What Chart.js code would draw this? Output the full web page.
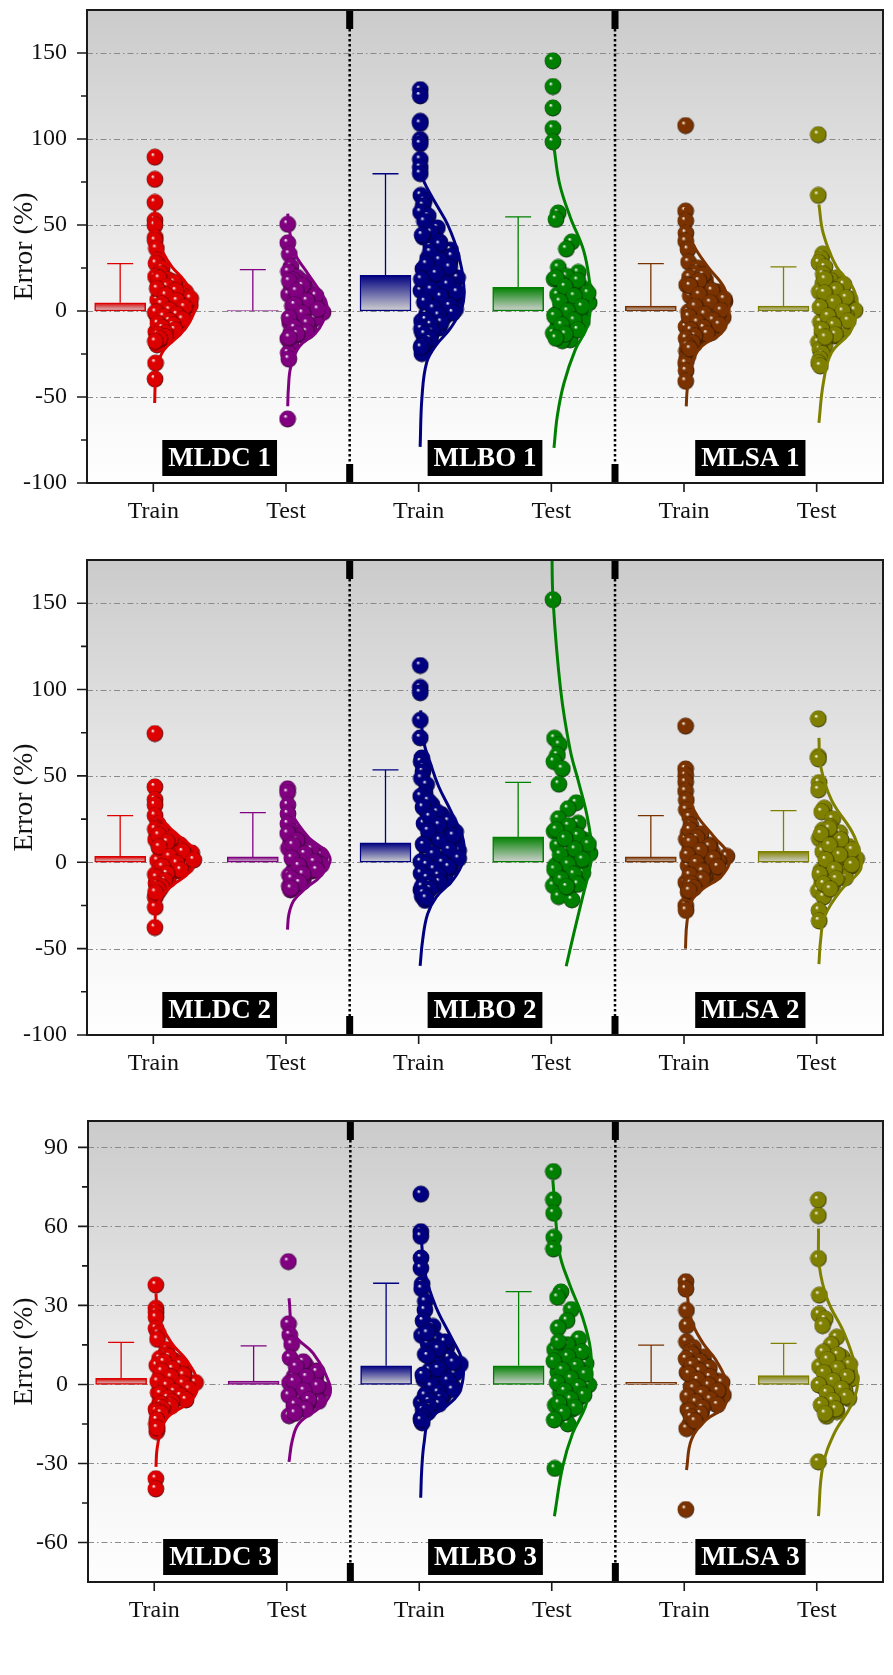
<!DOCTYPE html>
<html>
<head>
<meta charset="utf-8">
<script src="https://cdn.jsdelivr.net/npm/chart.js@4.4.1/dist/chart.umd.min.js"></script>
<style>
  body { margin: 0; background: #fff; }
  #wrap { position: relative; width: 893px; height: 1675px; }
  .panel { position: absolute; left: 0; }
</style>
</head>
<body>
<div id="wrap">
  <div class="panel" style="top:0;width:893px;height:548px"><canvas id="c1"></canvas></div>
  <div class="panel" style="top:548px;width:893px;height:545px"><canvas id="c2"></canvas></div>
  <div class="panel" style="top:1093px;width:893px;height:582px"><canvas id="c3"></canvas></div>
</div>
<script>
// categories along x and the group colours
const categories = ["Train", "Test", "Train", "Test", "Train", "Test"];
const groupColors = ["#dd0000", "#800080", "#000080", "#008000", "#7a3300", "#808000"];

// y tick labels
const yTicksA = [-100, -50, 0, 50, 100, 150];
const yMinorA = [-75, -25, 25, 75, 125];
const yTicksB = [-60, -30, 0, 30, 60, 90];
const yMinorB = [-45, -15, 15, 45, 75];

// labels shown in the boxes
const models1 = ["MLDC 1", "MLBO 1", "MLSA 1"];
const models2 = ["MLDC 2", "MLBO 2", "MLSA 2"];
const models3 = ["MLDC 3", "MLBO 3", "MLSA 3"];

// bar heights (mean) and error bar (SD)
const means1 = [4.8, 0.2, 20.7, 13.7, 2.9, 2.9];
const sds1 = [22.8, 23.9, 59.1, 41.0, 24.7, 22.8];
const means2 = [3.5, 3.1, 11.2, 14.7, 3.1, 6.4];
const sds2 = [23.5, 25.7, 42.3, 31.6, 23.9, 23.5];
const means3 = [2.3, 1.3, 7.1, 7.1, 0.8, 3.4];
const sds3 = [13.7, 13.3, 31.3, 28.1, 14.1, 12.2];

// individual errors (%)
const mldc1Train = [89.4, 76.5, 63.1, 52.7, 49.8, 42.7, 40.9, 36.3, 29.4, 27.6, 24.7, 21.8, 19.9, 18.2, 17.6, 16.1, 15.3, 14.8, 13.2, 12.6, 11.1, 10.4, 9.7, 8.2, 7.9, 6.5, 5.1, 4.6, 3.3, 2.7, 1.4, 0.9, -0.3, -1.2, -1.9, -2.8, -3.6, -4.4, -5.3, -6.1, -6.9, -7.7, -8.8, -9.5, -10.3, -11.6, -12.2, -13.4, -14.1, -14.9, -15.7, -16.8, -17.5, -19.7, -30.3, -39.6,
  18.9, 16.6, 14.2, 12.9, 11.7, 9.1, 7.2, 5.8, 4.0, 2.2, 0.4, -0.8, -2.2, -3.3, -4.9, -5.8, -7.4, -8.2, -9.9, -11.0, -12.7, -13.8, -15.2, -16.3, -17.8];
const mldc1Test = [50.4, 39.6, 33.0, 25.7, 22.8, 19.5, 18.1, 16.7, 15.4, 13.9, 12.2, 10.8, 9.6, 8.3, 6.9, 5.2, 4.1, 2.8, 1.6, 0.4, -0.8, -1.9, -3.2, -4.5, -5.6, -6.8, -8.1, -9.3, -10.6, -11.4, -12.7, -13.9, -14.8, -16.2, -19.7, -24.5, -28.0, -62.8,
  17.3, 14.6, 11.5, 8.9, 5.9, 3.5, 0.9, -1.4, -4.0, -7.2, -9.8, -12.1, -13.4, -15.5];
const mlbo1Train = [128.7, 125.0, 110.3, 109.0, 99.7, 97.2, 88.1, 83.4, 79.8, 67.2, 64.1, 61.3, 57.4, 55.2, 52.1, 48.3, 45.6, 42.9, 40.1, 37.2, 35.4, 33.0, 30.6, 28.3, 26.1, 24.4, 22.8, 20.7, 19.3, 17.6, 16.2, 14.5, 13.1, 11.8, 10.2, 9.1, 7.5, 6.3, 4.8, 3.6, 2.1, 0.9, -0.4, -1.8, -3.1, -4.6, -5.9, -7.2, -8.6, -9.9, -11.3, -12.8, -14.1, -15.6, -17.0, -18.4, -20.1, -22.3, -24.8,
  44.1, 38.6, 34.2, 31.8, 29.5, 27.2, 25.3, 21.6, 18.4, 15.3, 12.4, 10.9, 8.3, 5.4, 2.9, 1.5, -1.1, -2.6, -5.2, -6.6, -8.0, -10.5, -12.0, -13.5, -16.3, -19.0, -21.2];
const mlbo1Test = [145.4, 130.5, 118.0, 106.1, 98.3, 57.0, 53.2, 40.1, 36.0, 25.3, 22.4, 20.1, 18.5, 16.9, 15.2, 12.6, 11.0, 9.4, 7.8, 6.1, 4.7, 3.2, 1.8, 0.5, -0.9, -2.3, -3.6, -4.8, -6.2, -7.5, -8.9, -10.1, -11.6, -12.9, -14.2, -15.4, -16.8, -17.3,
  19.2, 17.7, 14.0, 10.3, 8.6, 5.4, 2.5, -0.2, -3.0, -5.5, -8.2, -11.0, -13.6, -15.9];
const mlsa1Train = [107.8, 58.1, 52.3, 45.2, 40.5, 35.7, 28.4, 24.9, 22.0, 19.6, 18.0, 16.8, 15.1, 13.9, 12.4, 11.2, 10.0, 8.7, 7.6, 6.4, 5.5, 4.1, 3.2, 2.0, 0.8, -0.5, -1.4, -2.7, -3.8, -4.9, -6.1, -7.3, -8.5, -9.2, -10.6, -11.8, -12.7, -14.0, -15.3, -16.5, -17.9, -19.2, -21.0, -23.4, -25.6, -28.1, -30.4, -34.8, -40.9,
  20.8, 17.4, 14.6, 11.8, 9.4, 6.9, 4.8, 2.6, 0.2, -2.0, -3.3, -5.5, -6.7, -8.0, -9.9, -11.2, -13.4, -14.7, -16.0, -18.6, -20.1, -22.2];
const mlsa1Test = [102.5, 67.2, 33.1, 30.4, 28.0, 25.5, 21.3, 19.2, 17.6, 16.0, 14.5, 12.9, 11.3, 9.8, 8.4, 7.0, 5.7, 4.2, 2.9, 1.5, 0.3, -1.0, -2.3, -3.7, -5.0, -6.4, -7.6, -8.9, -10.3, -11.7, -13.0, -14.6, -16.2, -18.1, -20.4, -22.6, -25.0, -27.8, -30.2, -32.0,
  18.4, 15.3, 12.1, 10.5, 7.7, 4.9, 2.2, -0.3, -3.0, -5.7, -8.3, -10.9, -13.8, -15.4];

const mldc2Train = [74.5, 43.6, 36.2, 33.1, 27.0, 22.3, 19.8, 18.4, 17.1, 16.0, 15.2, 14.3, 13.1, 12.0, 11.2, 10.1, 9.3, 8.4, 7.2, 6.5, 5.4, 4.7, 3.6, 2.8, 1.7, 0.9, -0.2, -1.1, -2.0, -3.2, -4.1, -5.0, -6.2, -7.1, -8.3, -9.4, -10.2, -11.5, -12.3, -13.6, -14.8, -16.4, -18.7, -20.3, -26.1, -37.8,
  19.1, 17.7, 15.6, 13.7, 11.6, 8.8, 6.0, 3.2, 1.3, -0.7, -2.6, -4.6, -6.7, -8.8, -10.7, -12.9, -14.2, -15.6, -17.5];
const mldc2Test = [42.5, 40.3, 33.1, 28.0, 22.2, 17.4, 15.9, 14.6, 13.2, 11.8, 10.5, 9.3, 8.1, 6.7, 5.4, 4.2, 3.0, 1.9, 0.7, -0.5, -1.6, -2.8, -3.9, -5.1, -6.4, -7.5, -8.8, -10.1, -11.3, -12.6, -13.9, -14.5, -16.0,
  16.6, 12.5, 9.9, 7.4, 4.8, 2.4, 0.1, -2.2, -4.5, -7.0, -9.5, -12.0, -15.2];
const mlbo2Train = [113.9, 101.2, 98.1, 82.2, 72.0, 60.4, 58.1, 55.0, 52.3, 48.6, 44.9, 40.1, 38.2, 33.4, 30.2, 27.5, 25.1, 22.4, 20.6, 19.0, 17.5, 16.1, 14.7, 13.2, 11.9, 10.5, 9.2, 7.8, 6.6, 5.3, 4.0, 2.7, 1.5, 0.3, -0.9, -2.2, -3.4, -4.7, -5.9, -7.1, -8.4, -9.6, -10.9, -12.1, -13.4, -14.8, -16.1, -17.3, -19.8, -22.1,
  35.6, 31.8, 28.9, 26.3, 23.7, 21.5, 18.2, 15.4, 12.5, 10.0, 7.2, 4.6, 2.1, -0.3, -1.5, -2.8, -4.1, -6.5, -7.7, -9.0, -11.5, -12.7, -14.1, -15.5, -18.0, -20.9];
const mlbo2Test = [152.0, 71.8, 68.1, 62.0, 58.3, 54.1, 45.2, 34.4, 31.0, 25.2, 22.6, 19.8, 17.9, 16.2, 14.5, 12.8, 11.1, 9.7, 8.2, 6.6, 5.1, 3.7, 2.2, 0.9, -0.6, -2.0, -3.5, -4.9, -6.3, -7.8, -9.2, -10.7, -12.1, -13.5, -15.0, -19.9, -21.8,
  21.1, 18.8, 15.3, 13.6, 10.4, 7.4, 4.4, 1.5, -1.3, -4.2, -7.0, -9.9, -12.8, -14.3];
const mlsa2Train = [78.8, 54.0, 50.2, 46.3, 41.1, 35.9, 30.4, 26.2, 21.3, 17.2, 15.8, 14.9, 13.3, 12.4, 10.8, 9.9, 8.3, 7.6, 5.9, 5.1, 3.4, 2.8, 1.1, 0.3, -1.4, -2.0, -3.8, -4.5, -6.1, -6.8, -8.6, -9.3, -10.9, -11.7, -13.2, -14.0, -15.6, -17.4, -25.1, -27.9,
  18.7, 16.4, 14.1, 11.6, 9.1, 6.6, 4.2, 2.0, -0.4, -2.7, -5.3, -7.5, -9.9, -12.4, -14.8, -16.5];
const mlsa2Test = [83.0, 61.2, 59.8, 46.1, 41.9, 31.3, 29.2, 25.0, 20.4, 18.6, 17.1, 15.4, 13.7, 12.3, 10.6, 9.1, 7.8, 6.2, 4.9, 3.4, 2.0, 0.6, -0.8, -2.1, -3.6, -4.9, -6.3, -7.7, -9.0, -10.4, -11.9, -13.2, -14.8, -16.5, -20.1, -27.9, -34.0,
  19.5, 16.3, 13.0, 9.8, 7.0, 4.1, 1.3, -1.5, -4.2, -7.0, -9.7, -12.6, -15.6];

const mldc3Train = [37.7, 28.9, 27.3, 25.4, 21.2, 19.3, 17.1, 13.2, 11.3, 9.8, 8.9, 8.0, 7.2, 6.3, 5.5, 4.6, 3.9, 3.1, 2.2, 1.5, 0.7, -0.1, -0.9, -1.6, -2.4, -3.2, -4.0, -4.7, -5.5, -6.2, -7.0, -7.9, -8.6, -9.4, -12.3, -15.1, -17.9, -35.8, -39.7,
  10.5, 8.5, 7.6, 5.9, 5.0, 3.5, 2.7, 1.1, 0.3, -0.5, -1.9, -2.8, -3.6, -4.4, -5.1, -5.9, -6.6, -7.4, -8.3, -9.1, -10.2, -11.0, -13.5, -16.6];
const mldc3Test = [46.6, 23.0, 18.8, 15.2, 10.1, 7.3, 6.2, 5.1, 4.3, 3.2, 2.4, 1.5, 0.6, -0.3, -1.2, -2.0, -2.9, -3.8, -4.6, -5.5, -6.4, -7.3, -8.2, -9.1, -10.0, -11.9,
  8.6, 6.7, 4.7, 2.8, 1.0, -0.7, -2.4, -4.2, -5.9, -7.7, -9.5, -11.0];
const mlbo3Train = [72.2, 58.0, 56.2, 48.0, 44.1, 38.1, 36.3, 31.5, 28.2, 24.1, 22.0, 20.3, 18.6, 17.0, 15.5, 14.1, 12.7, 11.4, 10.1, 8.9, 7.6, 6.4, 5.3, 4.1, 3.0, 1.9, 0.8, -0.3, -1.4, -2.5, -3.6, -4.7, -5.8, -6.9, -8.0, -9.2, -10.3, -11.5, -12.8, -14.6,
  19.4, 16.2, 13.4, 10.8, 8.3, 5.9, 3.6, 1.4, -0.8, -2.0, -3.1, -4.2, -5.3, -6.4, -7.5, -8.6, -9.8, -10.9, -12.2, -13.6];
const mlbo3Test = [80.8, 70.1, 65.0, 55.8, 51.4, 35.1, 33.0, 28.4, 24.2, 21.5, 17.3, 15.1, 13.2, 11.4, 9.6, 7.9, 6.2, 4.6, 3.0, 1.4, -0.2, -1.7, -3.3, -4.9, -6.4, -7.9, -9.6, -12.1, -15.0, -31.9,
  16.2, 12.3, 10.5, 8.8, 7.0, 5.4, 3.8, 2.2, 0.6, -1.0, -2.5, -4.1, -5.7, -7.2, -8.8, -10.8, -13.5];
const mlsa3Train = [39.0, 36.2, 28.1, 22.3, 16.2, 14.0, 12.3, 10.4, 9.1, 7.9, 6.8, 5.6, 4.5, 3.4, 2.3, 1.2, 0.2, -0.9, -2.0, -3.1, -4.1, -5.2, -6.2, -7.3, -8.4, -9.5, -10.6, -11.8, -13.0, -14.9, -16.8, -47.5,
  11.3, 9.7, 8.5, 7.3, 6.2, 5.0, 3.9, 2.8, 1.7, 0.7, -0.4, -1.5, -2.5, -3.6, -4.6, -5.7, -6.8, -7.8, -8.9, -10.0, -11.2, -12.4, -14.0];
const mlsa3Test = [70.0, 64.1, 47.8, 33.9, 26.6, 24.8, 22.3, 17.9, 15.1, 12.2, 10.3, 8.5, 6.8, 5.2, 3.6, 2.1, 0.6, -0.9, -2.4, -3.9, -5.4, -7.0, -8.6, -10.3, -12.1, -29.4,
  11.2, 9.4, 7.6, 6.0, 4.4, 2.9, 1.3, -0.2, -1.7, -3.2, -4.7, -6.2, -7.8, -9.4, -11.1];

// distribution curves: [error value, curve width in category units]
const curve1 = [
  [[59.5,0.01],[45,0.02],[33,0.08],[25.7,0.14],[18,0.23],[6,0.32],[-4,0.29],[-13,0.21],[-22.6,0.08],[-32,0.03],[-42,0.015],[-53.5,0.01]],
  [[56.6,0.013],[45,0.03],[33.4,0.067],[21.8,0.164],[12,0.25],[2.5,0.31],[-6,0.28],[-13,0.22],[-20.7,0.1],[-32,0.037],[-45,0.018],[-55.4,0.013]],
  [[80,0.011],[72,0.06],[61,0.14],[50,0.22],[33,0.3],[15,0.34],[3,0.33],[-10,0.24],[-20,0.13],[-30,0.06],[-50,0.025],[-79,0.011]],
  [[95,0.02],[74,0.062],[54.7,0.142],[35,0.244],[16,0.29],[6.4,0.3],[-9,0.27],[-22.6,0.18],[-42,0.095],[-61,0.045],[-79.6,0.02]],
  [[60,0.011],[50,0.025],[39,0.067],[25.7,0.18],[14,0.3],[2.5,0.34],[-5,0.33],[-13,0.28],[-20.7,0.13],[-32,0.052],[-45,0.025],[-55.4,0.017]],
  [[62,0.017],[45,0.05],[25.7,0.15],[14,0.27],[2.5,0.31],[-5,0.29],[-13,0.246],[-24.5,0.11],[-42,0.05],[-65,0.017]]
];
const curve2 = [
  [[38,0.011],[28,0.04],[18,0.15],[8,0.3],[2,0.32],[-6,0.27],[-13,0.15],[-20,0.06],[-28,0.02],[-36,0.011]],
  [[38,0.011],[28,0.045],[15,0.164],[3,0.33],[-8,0.26],[-15,0.15],[-22,0.06],[-30,0.022],[-39,0.011]],
  [[88,0.015],[70,0.037],[57,0.09],[44,0.15],[30,0.24],[13,0.336],[0,0.33],[-10,0.26],[-20,0.134],[-30,0.067],[-45,0.03],[-60,0.011]],
  [[185,0.004],[152,0.013],[100,0.07],[65,0.142],[46,0.207],[26.6,0.27],[7.3,0.306],[-2.3,0.293],[-21.6,0.231],[-41,0.17],[-60.2,0.112]],
  [[56,0.011],[40,0.03],[28,0.09],[15,0.224],[3,0.343],[-8,0.284],[-15,0.15],[-22,0.06],[-35,0.022],[-50,0.011]],
  [[72,0.017],[55.6,0.03],[36,0.112],[15,0.284],[-2.3,0.336],[-9,0.28],[-15.8,0.187],[-31,0.062],[-45,0.03],[-59,0.017]]
];
const curve3 = [
  [[34.6,0.013],[25.7,0.03],[15.6,0.132],[9.2,0.244],[0.4,0.328],[-6,0.281],[-12.3,0.104],[-18.6,0.045],[-25,0.02],[-31.3,0.013]],
  [[32.7,0.017],[19.4,0.054],[11.8,0.2],[4.2,0.29],[-3.4,0.328],[-8.5,0.254],[-14.8,0.092],[-21,0.043],[-29.4,0.017]],
  [[55,0.015],[42,0.045],[29.5,0.125],[18,0.24],[9.2,0.324],[2,0.33],[-4,0.29],[-8,0.21],[-13.5,0.075],[-22,0.037],[-32,0.019],[-43,0.011]],
  [[77.6,0.008],[50.4,0.057],[38.4,0.132],[25.7,0.231],[13,0.293],[0.4,0.293],[-8.5,0.254],[-18.6,0.157],[-31.3,0.082],[-50,0.02]],
  [[39,0.013],[24.4,0.054],[15.6,0.142],[9.2,0.24],[-0.9,0.328],[-8.5,0.3],[-13.5,0.164],[-21,0.054],[-32.5,0.017]],
  [[59.2,0.013],[44.7,0.02],[32,0.082],[19.4,0.207],[6.7,0.293],[-0.9,0.306],[-8.5,0.254],[-18.6,0.132],[-31.3,0.045],[-50,0.013]]
];

const FONT = "'Liberation Serif', 'Times New Roman', serif";

// shaded ball used as point marker
function makeBall(color) {
  const c = document.createElement("canvas");
  c.width = 18; c.height = 18;
  const g = c.getContext("2d");
  const grad = g.createRadialGradient(6.6, 6, 0.3, 9, 9, 9);
  grad.addColorStop(0, "#ffffff");
  grad.addColorStop(0.2, color);
  grad.addColorStop(0.8, color);
  grad.addColorStop(1, "rgba(0,0,0,0.9)");
  g.fillStyle = grad;
  g.beginPath();
  g.arc(9, 9, 8.4, 0, Math.PI * 2);
  g.fill();
  return c;
}
const balls = groupColors.map(makeBall);

// width of the curve at a given value (used to spread the dots)
function curveWidth(curve, v) {
  for (let k = 0; k < curve.length - 1; k++) {
    const a = curve[k], b = curve[k + 1];
    if (v <= a[0] && v >= b[0]) {
      const t = (a[0] - v) / (a[0] - b[0]);
      return a[1] + (b[1] - a[1]) * t;
    }
  }
  return 0;
}

const bgPlugin = {
  id: "panelDeco",
  beforeDraw(chart) {
    const { ctx, chartArea: a } = chart;
    const g = ctx.createLinearGradient(0, a.top, 0, a.bottom);
    g.addColorStop(0, "#cbcbcb");
    g.addColorStop(0.55, "#eeeeee");
    g.addColorStop(1, "#fefefe");
    ctx.save();
    ctx.fillStyle = g;
    ctx.fillRect(a.left, a.top, a.right - a.left, a.bottom - a.top);
    ctx.restore();
  },
  beforeDatasetsDraw(chart) {
    const { ctx, chartArea: a, scales } = chart;
    const o = chart.options.plugins.panelDeco;
    ctx.save();
    // grid lines
    ctx.strokeStyle = "#8a8a8a";
    ctx.lineWidth = 1;
    ctx.setLineDash([6, 3, 1.5, 3]);
    o.yTicks.forEach(v => {
      const y = Math.round(scales.y.getPixelForValue(v)) + 0.5;
      if (y <= a.top + 1 || y >= a.bottom - 1) return;
      ctx.beginPath(); ctx.moveTo(a.left, y); ctx.lineTo(a.right, y); ctx.stroke();
    });
    // separators
    ctx.setLineDash([2.5, 2.5]);
    ctx.strokeStyle = "#000";
    ctx.lineWidth = 2.5;
    [1.48, 3.48].forEach(xv => {
      const x = scales.x.getPixelForValue(xv);
      ctx.beginPath(); ctx.moveTo(x, a.top + 19); ctx.lineTo(x, a.bottom - 19); ctx.stroke();
      ctx.fillStyle = "#000";
      ctx.fillRect(x - 3.5, a.top, 7, 19);
      ctx.fillRect(x - 3.5, a.bottom - 19, 7, 19);
    });
    ctx.setLineDash([]);
    // error bars
    o.means.forEach((m, i) => {
      const x = scales.x.getPixelForValue(i - 0.25);
      const y0 = scales.y.getPixelForValue(m);
      const y1 = scales.y.getPixelForValue(m + o.sds[i]);
      ctx.strokeStyle = groupColors[i];
      ctx.lineWidth = 1.3;
      ctx.beginPath();
      ctx.moveTo(x, y0); ctx.lineTo(x, y1);
      ctx.moveTo(x - 13, y1); ctx.lineTo(x + 13, y1);
      ctx.stroke();
    });
    ctx.restore();
  },
  afterDatasetsDraw(chart) {
    const { ctx, chartArea: a, scales } = chart;
    const o = chart.options.plugins.panelDeco;
    ctx.save();
    ctx.font = "bold 27px " + FONT;
    ctx.textAlign = "center";
    ctx.textBaseline = "middle";
    o.models.forEach((name, k) => {
      const cx = scales.x.getPixelForValue(2 * k + 0.5);
      const w = ctx.measureText(name).width + 12;
      const h = 36;
      const top = a.bottom - 7 - h;
      ctx.fillStyle = "#000";
      ctx.fillRect(cx - w / 2, top, w, h);
      ctx.fillStyle = "#fff";
      ctx.fillText(name, cx, top + h / 2 + 1);
    });
    ctx.restore();
  },
  afterDraw(chart) {
    const { ctx, chartArea: a, scales } = chart;
    const o = chart.options.plugins.panelDeco;
    ctx.save();
    ctx.strokeStyle = "#1a1a1a";
    ctx.lineWidth = 2;
    ctx.strokeRect(a.left, a.top, a.right - a.left, a.bottom - a.top);
    ctx.lineWidth = 1.6;
    ctx.beginPath();
    o.yTicks.forEach(v => {
      const y = scales.y.getPixelForValue(v);
      ctx.moveTo(a.left - 10, y); ctx.lineTo(a.left, y);
    });
    o.yMinor.forEach(v => {
      const y = scales.y.getPixelForValue(v);
      ctx.moveTo(a.left - 6, y); ctx.lineTo(a.left, y);
    });
    categories.forEach((c, i) => {
      const x = scales.x.getPixelForValue(i);
      ctx.moveTo(x, a.bottom); ctx.lineTo(x, a.bottom + 9);
    });
    ctx.stroke();
    ctx.restore();
  }
};

function makePanel(id, opts) {
  const datasets = [];
  // bars (mean)
  datasets.push({
    type: "bar",
    order: 3,
    data: opts.means.map((m, i) => ({ x: i - 0.25, y: m })),
    barThickness: 51,
    borderWidth: 1.5,
    borderSkipped: false,
    borderColor: groupColors,
    backgroundColor: (ctx) => {
      const col = groupColors[ctx.dataIndex % groupColors.length];
      const ys = ctx.chart.scales.y;
      if (!ys || ctx.raw == null) return col;
      const top = ys.getPixelForValue(ctx.raw.y);
      const bot = ys.getPixelForValue(0);
      if (!isFinite(top) || Math.abs(bot - top) < 0.5) return col;
      const g = ctx.chart.ctx.createLinearGradient(0, top, 0, bot);
      g.addColorStop(0, col);
      g.addColorStop(1, "#d2d2d2");
      return g;
    }
  });
  // dots, spread sideways inside the curve (narrower in the tails)
  opts.points.forEach((vals, i) => {
    const wMax = Math.max(...opts.curves[i].map(p => p[1]));
    datasets.push({
      type: "scatter",
      order: 2,
      data: vals.map((v, k) => {
        const w = curveWidth(opts.curves[i], v);
        const spread = w * Math.min(1, w / wMax) * 0.95;
        const f = ((k + 1) * 0.6180339) % 1;
        return { x: i + 0.012 + spread * f, y: v };
      }),
      pointStyle: balls[i],
      pointRadius: 9,
      pointHoverRadius: 9
    });
  });
  // distribution curves
  opts.curves.forEach((cv, i) => {
    datasets.push({
      type: "line",
      order: 1,
      data: cv.map(p => ({ x: i + p[1], y: p[0] })),
      borderColor: groupColors[i],
      borderWidth: 3,
      pointRadius: 0,
      tension: 0.4,
      fill: false
    });
  });

  new Chart(document.getElementById(id), {
    type: "scatter",
    data: { datasets },
    plugins: [bgPlugin],
    options: {
      responsive: true,
      maintainAspectRatio: false,
      animation: false,
      events: [],
      layout: { padding: opts.padding },
      plugins: {
        legend: { display: false },
        tooltip: { enabled: false },
        panelDeco: { yTicks: opts.yTicks, yMinor: opts.yMinor, means: opts.means, sds: opts.sds, models: opts.models }
      },
      scales: {
        x: {
          type: "linear",
          min: -0.5,
          max: 5.5,
          offset: false,
          grid: { display: false, drawTicks: false },
          border: { display: false },
          afterBuildTicks: (s) => { s.ticks = categories.map((c, i) => ({ value: i })); },
          afterFit: (s) => { s.height = opts.xHeight; s.paddingLeft = 0; s.paddingRight = 0; },
          ticks: {
            autoSkip: false,
            maxRotation: 0,
            padding: 14,
            color: "#111",
            font: { family: FONT, size: 24 },
            callback: (v, idx) => categories[idx]
          }
        },
        y: {
          min: opts.yMin,
          max: opts.yMax,
          grid: { display: false, drawTicks: false },
          border: { display: false },
          afterBuildTicks: (s) => { s.ticks = opts.yTicks.map(v => ({ value: v })); },
          afterFit: (s) => { s.width = opts.yWidth; s.paddingTop = 0; s.paddingBottom = 0; },
          ticks: {
            padding: 20,
            color: "#111",
            font: { family: FONT, size: 24 },
            callback: (v) => String(v)
          },
          title: {
            display: true,
            text: "Error (%)",
            color: "#111",
            font: { family: FONT, size: 28 },
            padding: { top: 8, bottom: 0 }
          }
        }
      }
    }
  });
}

makePanel("c1", {
  means: means1, sds: sds1, models: models1, curves: curve1,
  points: [mldc1Train, mldc1Test, mlbo1Train, mlbo1Test, mlsa1Train, mlsa1Test],
  yMin: -100, yMax: 175, yTicks: yTicksA, yMinor: yMinorA,
  padding: { top: 10, right: 3, left: 0, bottom: 0 }, yWidth: 87, xHeight: 65
});
makePanel("c2", {
  means: means2, sds: sds2, models: models2, curves: curve2,
  points: [mldc2Train, mldc2Test, mlbo2Train, mlbo2Test, mlsa2Train, mlsa2Test],
  yMin: -100, yMax: 175, yTicks: yTicksA, yMinor: yMinorA,
  padding: { top: 12, right: 3, left: 0, bottom: 0 }, yWidth: 87, xHeight: 58
});
makePanel("c3", {
  means: means3, sds: sds3, models: models3, curves: curve3,
  points: [mldc3Train, mldc3Test, mlbo3Train, mlbo3Test, mlsa3Train, mlsa3Test],
  yMin: -75, yMax: 100, yTicks: yTicksB, yMinor: yMinorB,
  padding: { top: 28, right: 1, left: 0, bottom: 0 }, yWidth: 88, xHeight: 93
});
</script>
</body>
</html>
